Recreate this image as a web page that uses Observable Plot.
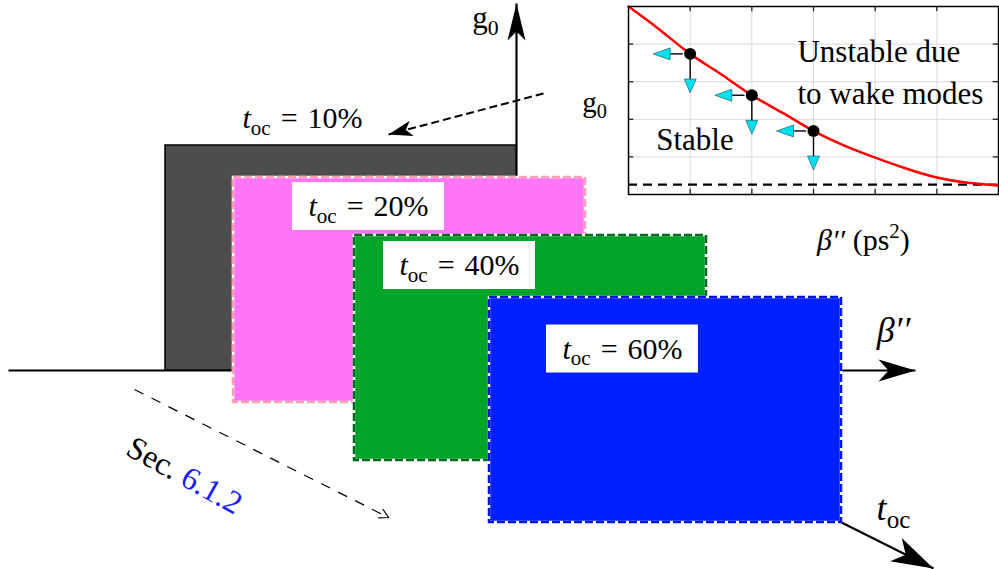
<!DOCTYPE html>
<html>
<head>
<meta charset="utf-8">
<script src="https://cdn.jsdelivr.net/npm/d3@7"></script>
<script src="https://cdn.jsdelivr.net/npm/@observablehq/plot@0.6"></script>
<style>
  body { margin: 0; background: #fff; }
  #chart { position: relative; width: 999px; height: 569px; overflow: hidden; }
  #chart svg { position: absolute; }
</style>
</head>
<body>
<div id="chart"></div>
<script>
// ---- Schematic: stability regions for each occupancy level t_oc ----
// Coordinates are in the schematic frame (origin where the β″ and g0 axes cross, y up).
const tocLevels      = [10, 20, 40, 60];
const regionLeft     = [-351, -283, -162, -27];
const regionRight    = [0, 69, 190, 325];
const regionBottom   = [0, -32, -90, -152];
const regionTop      = [225, 193, 135, 73];
const regionFill     = ["#4d4d4d", "#ff77f6", "#00a428", "#0020ff"];
const regionEdge     = ["#000000", "#ff9cb6", "#006a1c", "#0016dc"];
const regionLabelX   = [-214, -148, -57, 106];
const regionLabelY   = [252, 164, 105, 21.5];
const regionBoxed    = [false, true, true, true];

// axes of the schematic: β″ (right), g0 (up), t_oc (into the page)
const axisArrows = [
  {key: "beta", x1: -508, y1: 0,    x2: 399, y2: 0},
  {key: "g0",   x1: 0,    y1: 0,    x2: 0,   y2: 367},
  {key: "toc",  x1: 325,  y1: -152, x2: 417, y2: -198}
];
const axisLabels = [
  {text: "*β′′*",    x: 377, y: 40,   size: 36},
  {text: "g_{0}",    x: -31, y: 352,  size: 31},
  {text: "*t*_{oc}", x: 377, y: -138, size: 36}
];
// dashed pointers
const labelPointer = [{x1: 27, y1: 277, x2: -128, y2: 236}];
const sectionPointer = [{x1: -382, y1: -19, x2: -128, y2: -147}];
const sectionNote = [{text: "Sec. {#1a1aff|6.1.2}", x: -332, y: -105, angle: 29}];

// ---- Inset: stability boundary g0(β″) ----
const betaGrid    = [0, 0.5, 1, 1.5, 2, 2.5, 3, 3.5, 4, 4.5, 5, 5.5, 6];
const boundaryG0  = [5.0, 4.39, 3.74, 3.2, 2.64, 2.17, 1.69, 1.3, 0.98, 0.69, 0.45, 0.31, 0.24];
const sampleBeta  = [1, 2, 3];
const sampleG0    = [3.74, 2.64, 1.69];
const wakeFloor   = 0.26;
const gridBeta    = [1, 2, 3, 4, 5];
const gridG0      = [1, 2, 3, 4];
const insetNotes  = [
  {text: "Unstable due",  x: 2.74, y: 3.8},
  {text: "to wake modes", x: 2.74, y: 2.66},
  {text: "Stable",        x: 0.45, y: 1.44}
];

// arrowhead glyphs for Plot.dot (tip at the origin, pointing up before rotation)
const stealth = (len, half, notch) => ({
  draw(ctx) {
    ctx.moveTo(0, 0); ctx.lineTo(half, len); ctx.lineTo(0, len - notch);
    ctx.lineTo(-half, len); ctx.closePath();
  }
});
const chevron = (len, half) => ({
  draw(ctx) { ctx.moveTo(-half, len); ctx.lineTo(0, 0); ctx.lineTo(half, len); }
});
const heading = (a) => Math.atan2(a.x2 - a.x1, a.y2 - a.y1) * 180 / Math.PI;

// turn light markup (*italic*, _{sub}, ^{sup}, {#color|text}) into tspans
function typeset(svg) {
  const ns = "http://www.w3.org/2000/svg";
  svg.querySelectorAll("text").forEach((t) => {
    const src = t.textContent;
    if (!/[*_^{]/.test(src)) return;
    const fs = parseFloat(getComputedStyle(t).fontSize);
    t.textContent = "";
    const re = /\*([^*]+)\*|_\{([^}]*)\}|\^\{([^}]*)\}|\{(#[0-9a-fA-F]{3,6})\|([^}]*)\}|([^*_^{]+)/g;
    let m, shift = 0;
    while ((m = re.exec(src))) {
      const ts = document.createElementNS(ns, "tspan");
      let text, target = 0;
      if (m[1] != null) { text = m[1]; ts.setAttribute("font-style", "italic"); }
      else if (m[2] != null) { text = m[2]; target = 0.22 * fs; ts.setAttribute("font-size", 0.7 * fs); }
      else if (m[3] != null) { text = m[3]; target = -0.4 * fs; ts.setAttribute("font-size", 0.7 * fs); }
      else if (m[4] != null) { text = m[5]; ts.setAttribute("fill", m[4]); }
      else text = m[6];
      if (target !== shift) { ts.setAttribute("dy", target - shift); shift = target; }
      ts.textContent = text;
      t.appendChild(ts);
    }
  });
}

const idx = tocLevels.map((_, i) => i);
const labelText = (i) => `*t*_{oc}\u200a = \u200a${tocLevels[i]}%`;

const regionMarks = idx.flatMap((i) => [
  Plot.rect([i], {
    x1: (j) => regionLeft[j], x2: (j) => regionRight[j],
    y1: (j) => regionBottom[j], y2: (j) => regionTop[j],
    fill: regionFill[i], stroke: i === 0 ? "black" : "white", strokeWidth: i === 0 ? 1.5 : 2.5
  }),
  i === 0 ? null : Plot.rect([i], {
    x1: (j) => regionLeft[j], x2: (j) => regionRight[j],
    y1: (j) => regionBottom[j], y2: (j) => regionTop[j],
    fill: "none", stroke: regionEdge[i], strokeWidth: 2.5, strokeDasharray: "8,3"
  }),
  regionBoxed[i] ? Plot.rect([i], {
    x1: (j) => regionLabelX[j] - 76, x2: (j) => regionLabelX[j] + 76,
    y1: (j) => regionLabelY[j] - 24, y2: (j) => regionLabelY[j] + 24,
    fill: "white"
  }) : null,
  Plot.text([i], {
    x: (j) => regionLabelX[j], y: (j) => regionLabelY[j], text: labelText,
    fontSize: 30, textAnchor: "middle", lineAnchor: "middle", fill: "black"
  })
]);

const main = Plot.plot({
  width: 999, height: 569, margin: 0,
  x: {domain: [-516, 483], range: [0, 999], axis: null},
  y: {domain: [-199, 370], range: [569, 0], axis: null},
  color: {type: "identity"},
  style: {background: "white", fontFamily: "'Liberation Serif', 'Times New Roman', serif", color: "black"},
  marks: [
    Plot.link(axisArrows, {x1: "x1", y1: "y1", x2: "x2", y2: "y2", stroke: "black", strokeWidth: 2.2}),
    ...regionMarks,
    Plot.dot(axisArrows.filter((a) => a.key === "beta"), {x: "x2", y: "y2", rotate: heading, symbol: stealth(37, 11, 10), fill: "black", stroke: "none"}),
    Plot.dot(axisArrows.filter((a) => a.key === "g0"), {x: "x2", y: "y2", rotate: heading, symbol: stealth(37, 9, 9), fill: "black", stroke: "none"}),
    Plot.dot(axisArrows.filter((a) => a.key === "toc"), {x: "x2", y: "y2", rotate: heading, symbol: stealth(42, 13, 11), fill: "black", stroke: "none"}),
    Plot.text(axisLabels, {x: "x", y: "y", text: "text", fontSize: (d) => d.size, textAnchor: "middle", lineAnchor: "middle", fill: "black"}),
    Plot.link(labelPointer, {x1: "x1", y1: "y1", x2: "x2", y2: "y2", stroke: "black", strokeWidth: 2, strokeDasharray: "8,4"}),
    Plot.dot(labelPointer, {x: "x2", y: "y2", rotate: heading, symbol: stealth(24, 8, 6), fill: "black", stroke: "none"}),
    Plot.link(sectionPointer, {x1: "x1", y1: "y1", x2: "x2", y2: "y2", stroke: "black", strokeWidth: 1.2, strokeDasharray: "10,9"}),
    Plot.dot(sectionPointer, {x: "x2", y: "y2", rotate: heading, symbol: chevron(9, 5), fill: "none", stroke: "black", strokeWidth: 1.2}),
    Plot.text(sectionNote, {x: "x", y: "y", text: "text", rotate: "angle", fontSize: 32, textAnchor: "middle", lineAnchor: "middle", fill: "black"})
  ]
});

const inset = Plot.plot({
  width: 439, height: 265,
  marginLeft: 68, marginRight: 1, marginTop: 6, marginBottom: 71,
  x: {domain: [0, 6], axis: null},
  y: {domain: [0, 5], axis: null},
  style: {background: "transparent", fontFamily: "'Liberation Serif', 'Times New Roman', serif", color: "black"},
  marks: [
    Plot.ruleX(gridBeta, {stroke: "#d9d9d9", strokeWidth: 1}),
    Plot.ruleY(gridG0, {stroke: "#d9d9d9", strokeWidth: 1}),
    Plot.ruleX(gridBeta, {y1: 5, y2: 4.86, stroke: "#222", strokeWidth: 1.3}),
    Plot.ruleX(gridBeta, {y1: 0, y2: 0.14, stroke: "#222", strokeWidth: 1.3}),
    Plot.ruleY(gridG0, {x1: 0, x2: 0.085, stroke: "#222", strokeWidth: 1.3}),
    Plot.ruleY(gridG0, {x1: 6, x2: 5.915, stroke: "#222", strokeWidth: 1.3}),
    Plot.ruleY([wakeFloor], {stroke: "black", strokeWidth: 2.2, strokeDasharray: "9,6"}),
    Plot.line(betaGrid, {x: (d) => d, y: (d, i) => boundaryG0[i], stroke: "#ff0000", strokeWidth: 2.5, curve: "natural"}),
    Plot.frame({stroke: "black", strokeWidth: 1.5}),
    // moving left (smaller β″) or down (smaller g0) from the boundary stabilises
    Plot.link(sampleBeta, {x1: (d) => d - 0.12, x2: (d) => d - 0.32, y1: (d, i) => sampleG0[i], y2: (d, i) => sampleG0[i], stroke: "black", strokeWidth: 1.4}),
    Plot.link(sampleBeta, {x1: (d) => d, x2: (d) => d, y1: (d, i) => sampleG0[i] - 0.15, y2: (d, i) => sampleG0[i] - 0.72, stroke: "black", strokeWidth: 1.4}),
    Plot.dot(sampleBeta, {x: (d) => d - 0.6, y: (d, i) => sampleG0[i], rotate: -90, symbol: stealth(17, 6, 0), fill: "#00e1ef", stroke: "#1a4a55", strokeWidth: 0.6}),
    Plot.dot(sampleBeta, {x: (d) => d, y: (d, i) => sampleG0[i] - 1.04, rotate: 180, symbol: stealth(14, 6, 0), fill: "#00e1ef", stroke: "#1a4a55", strokeWidth: 0.6}),
    Plot.dot(sampleBeta, {x: (d) => d, y: (d, i) => sampleG0[i], r: 6, fill: "black", stroke: "none"}),
    Plot.text(insetNotes, {x: "x", y: "y", text: "text", fontSize: 31, textAnchor: "start", lineAnchor: "middle", fill: "black"}),
    Plot.text(["g_{0}"], {frameAnchor: "left", y: 2.45, dx: -34, text: (d) => d, fontSize: 29, textAnchor: "middle", lineAnchor: "middle", fill: "black"}),
    Plot.text(["*β′′* (ps^{2})"], {frameAnchor: "bottom", x: 3.81, dy: 46, text: (d) => d, fontSize: 30, textAnchor: "middle", lineAnchor: "middle", fill: "black"})
  ]
});

const chart = document.getElementById("chart");
main.style.left = "0px"; main.style.top = "0px";
inset.style.left = "560px"; inset.style.top = "0px";
chart.appendChild(main);
chart.appendChild(inset);
typeset(main);
typeset(inset);
</script>
</body>
</html>
